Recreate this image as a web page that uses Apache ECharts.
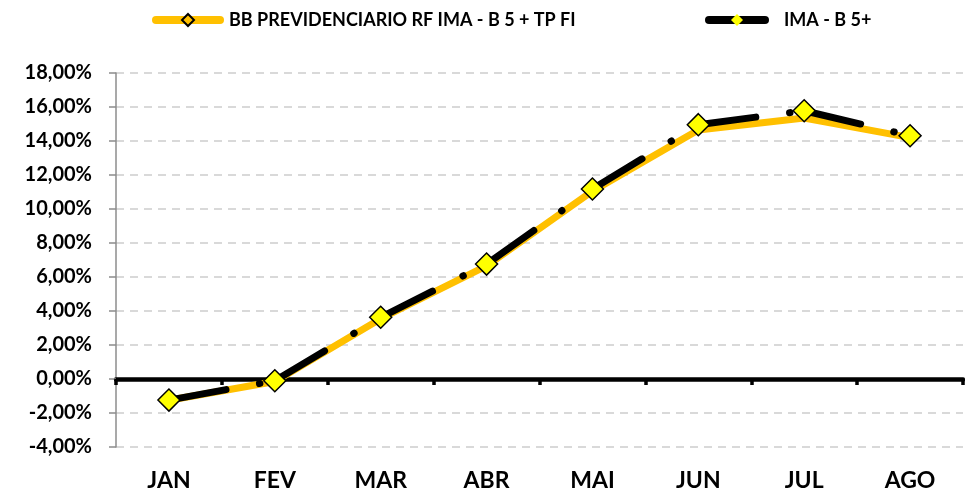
<!DOCTYPE html>
<html>
<head>
<meta charset="utf-8">
<script src="https://cdn.jsdelivr.net/npm/echarts@6/dist/echarts.min.js"></script>
<style>
  html, body { margin: 0; padding: 0; background: #fff; }
  #chart { width: 965px; height: 494px; }
</style>
</head>
<body>
<div id="chart"></div>
<script>
  // values (% accumulated)
  const months = ['JAN', 'FEV', 'MAR', 'ABR', 'MAI', 'JUN', 'JUL', 'AGO'];
  const bbPrev = [-1.25, -0.15, 3.55, 6.65, 11.05, 14.65, 15.35, 14.2];
  const imaB5 = [-1.24, -0.10, 3.63, 6.76, 11.18, 14.96, 15.78, 14.31];

  const nameBB = 'BB PREVIDENCIARIO RF IMA - B 5 + TP FI';
  const nameIMA = 'IMA - B 5+';

  const font = 'Lato, "Open Sans", Arial, sans-serif';

  let chart = echarts.init(document.getElementById('chart'));

  // black line: dash / dot pattern restarts on every segment, so one series per segment
  let segments = [];
  for (let i = 0; i < months.length - 1; i++) {
    segments.push({
      name: nameIMA,
      type: 'line',
      z: 3,
      silent: true,
      symbol: 'none',
      connectNulls: false,
      data: imaB5.map((v, j) => (j === i || j === i + 1) ? v : null),
      lineStyle: { color: '#000', width: 7, type: [58, 34, 0.5, 300], cap: 'round' }
    });
  }

  let legendBase = {
    top: 11,
    padding: 0,
    itemHeight: 15,
    selectedMode: false,
    textStyle: { fontFamily: font, fontWeight: 'bold', fontSize: 18, color: '#000' }
  };

  let option = {
    animation: false,
    legend: [
      Object.assign({}, legendBase, {
        left: 152,
        itemWidth: 64,
        data: [nameBB],
        lineStyle: { color: '#FFC000', width: 8, type: 'solid', cap: 'round', opacity: 1 },
        itemStyle: { color: '#FFC000', borderColor: '#000', borderWidth: 2 },
        textStyle: Object.assign({}, legendBase.textStyle, { padding: [0, 0, 0, 4] })
      }),
      Object.assign({}, legendBase, {
        left: 705,
        itemWidth: 56,
        data: [nameIMA],
        lineStyle: { color: '#000', width: 8, type: 'solid', cap: 'round', opacity: 1 },
        itemStyle: { color: '#FFFF00', borderWidth: 0 },
        textStyle: Object.assign({}, legendBase.textStyle, { padding: [0, 0, 0, 14] })
      })
    ],
    grid: { left: 116, right: 2, top: 73, bottom: 47 },
    xAxis: [
      {
        type: 'category',
        data: months,
        boundaryGap: true,
        position: 'bottom',
        axisLine: { onZero: true, lineStyle: { color: '#000', width: 4.5 } },
        axisTick: { show: true, inside: false, length: 6, lineStyle: { color: '#000', width: 3.5 } },
        axisLabel: { show: false },
        splitLine: { show: false }
      },
      {
        type: 'category',
        data: months,
        boundaryGap: true,
        position: 'bottom',
        axisLine: { show: false, onZero: false },
        axisTick: { show: false },
        axisLabel: {
          margin: 22,
          fontFamily: font,
          fontWeight: 'bold',
          fontSize: 23,
          color: '#000'
        },
        splitLine: { show: false }
      }
    ],
    yAxis: {
      type: 'value',
      min: -4,
      max: 18,
      interval: 2,
      axisLine: { show: true, lineStyle: { color: '#8c8c8c', width: 1.5 } },
      axisTick: { show: true, length: 7, lineStyle: { color: '#8c8c8c', width: 1.5 } },
      axisLabel: {
        margin: 24,
        fontFamily: font,
        fontWeight: 'bold',
        fontSize: 20,
        color: '#000',
        formatter: (v) => v.toFixed(2).replace('.', ',') + '%'
      },
      splitLine: { show: true, lineStyle: { color: '#d9d9d9', width: 2, type: [8, 6] } }
    },
    series: [
      {
        name: nameBB,
        type: 'line',
        z: 2,
        data: bbPrev,
        symbol: 'diamond',
        showSymbol: false,
        silent: true,
        lineStyle: { color: '#FFC000', width: 7, cap: 'round', join: 'round' },
        itemStyle: { color: '#FFC000' }
      },
      {
        // markers of IMA - B 5+
        name: nameIMA,
        type: 'line',
        z: 5,
        data: imaB5,
        symbol: 'diamond',
        symbolSize: 22,
        silent: true,
        lineStyle: { width: 0, opacity: 0 },
        itemStyle: { color: '#FFFF00', borderColor: '#000', borderWidth: 1.5 }
      },
      ...segments
    ]
  };

  chart.setOption(option);
</script>
</body>
</html>
